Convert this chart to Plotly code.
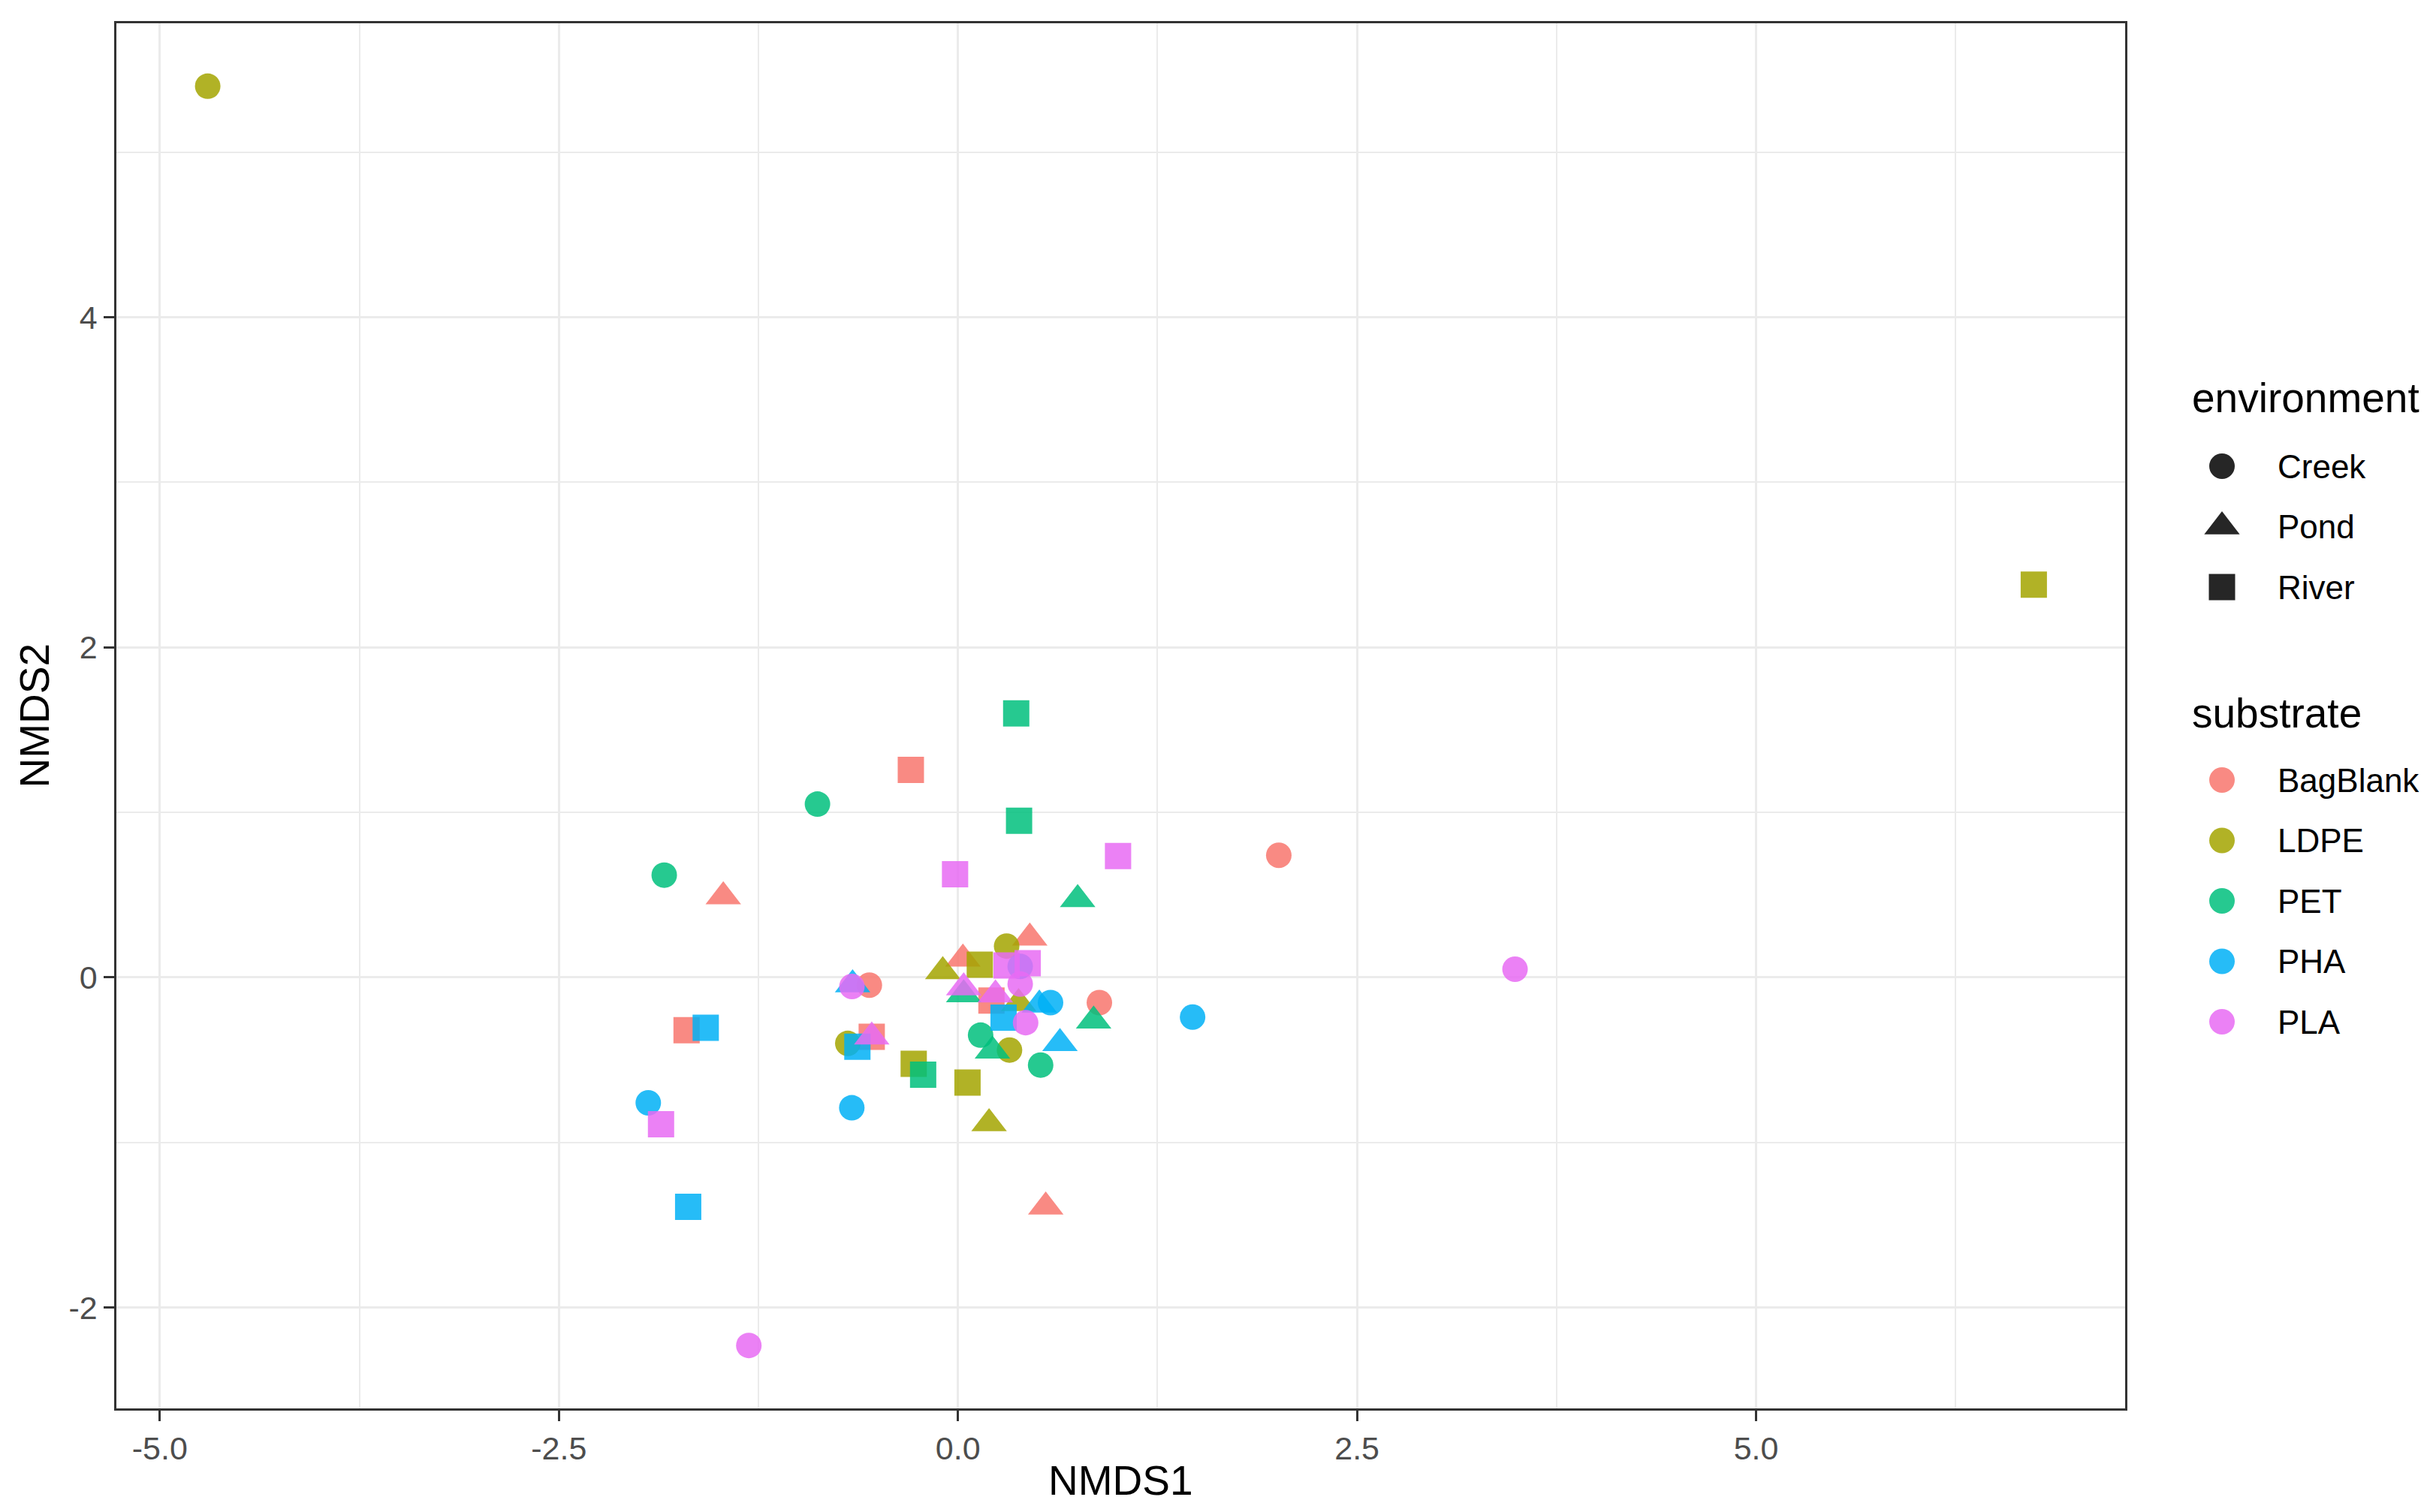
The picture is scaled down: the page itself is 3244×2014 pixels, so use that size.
import plotly.graph_objects as go

W, H = 3244, 2014

# ---------------- data ----------------
substrates = ["BagBlank", "LDPE", "PET", "PHA", "PLA"]
substrate_colors = ["#F8766D", "#A3A500", "#00BF7D", "#00B0F6", "#E76BF3"]
environments = ["Creek", "Pond", "River"]

x_tick_vals = [-5.0, -2.5, 0.0, 2.5, 5.0]
x_tick_labels = ["-5.0", "-2.5", "0.0", "2.5", "5.0"]
y_tick_vals = [-2, 0, 2, 4]
y_tick_labels = ["-2", "0", "2", "4"]

bagblank_creek_x = [2.01, 0.886, -0.555]
bagblank_creek_y = [0.74, -0.153, -0.047]
bagblank_pond_x = [-1.47, 0.45, 0.031, 0.55]
bagblank_pond_y = [0.49, 0.24, 0.112, -1.39]
bagblank_river_x = [-0.295, -1.70, -0.54, 0.21]
bagblank_river_y = [1.257, -0.32, -0.36, -0.14]

ldpe_creek_x = [-4.70, 0.305, 0.323, -0.69]
ldpe_creek_y = [5.40, 0.19, -0.44, -0.40]
ldpe_pond_x = [-0.095, 0.38, 0.195]
ldpe_pond_y = [0.036, -0.157, -0.885]
ldpe_river_x = [6.74, 0.137, -0.277, 0.06]
ldpe_river_y = [2.38, 0.077, -0.524, -0.637]

pet_creek_x = [-0.88, -1.84, 0.142, 0.518]
pet_creek_y = [1.05, 0.62, -0.35, -0.531]
pet_pond_x = [0.75, 0.036, 0.85, 0.216]
pet_pond_y = [0.473, -0.104, -0.263, -0.445]
pet_river_x = [0.365, 0.383, -0.218]
pet_river_y = [1.60, 0.949, -0.59]

pha_creek_x = [1.47, -1.94, -0.665, 0.39, 0.58]
pha_creek_y = [-0.24, -0.76, -0.79, 0.067, -0.153]
pha_pond_x = [-0.66, 0.51, 0.639]
pha_pond_y = [-0.044, -0.166, -0.40]
pha_river_x = [-1.58, -1.69, 0.286, -0.63]
pha_river_y = [-0.305, -1.39, -0.244, -0.42]

pla_creek_x = [3.49, -1.31, 0.39, 0.424, -0.664]
pla_creek_y = [0.05, -2.23, -0.04, -0.274, -0.055]
pla_pond_x = [0.036, 0.235, -0.54]
pla_pond_y = [-0.062, -0.105, -0.36]
pla_river_x = [1.003, -0.018, -1.86, 0.305, 0.437]
pla_river_y = [0.735, 0.625, -0.89, 0.073, 0.086]

groups = {
    ("BagBlank", "Creek"): (bagblank_creek_x, bagblank_creek_y),
    ("BagBlank", "Pond"): (bagblank_pond_x, bagblank_pond_y),
    ("BagBlank", "River"): (bagblank_river_x, bagblank_river_y),
    ("LDPE", "Creek"): (ldpe_creek_x, ldpe_creek_y),
    ("LDPE", "Pond"): (ldpe_pond_x, ldpe_pond_y),
    ("LDPE", "River"): (ldpe_river_x, ldpe_river_y),
    ("PET", "Creek"): (pet_creek_x, pet_creek_y),
    ("PET", "Pond"): (pet_pond_x, pet_pond_y),
    ("PET", "River"): (pet_river_x, pet_river_y),
    ("PHA", "Creek"): (pha_creek_x, pha_creek_y),
    ("PHA", "Pond"): (pha_pond_x, pha_pond_y),
    ("PHA", "River"): (pha_river_x, pha_river_y),
    ("PLA", "Creek"): (pla_creek_x, pla_creek_y),
    ("PLA", "Pond"): (pla_pond_x, pla_pond_y),
    ("PLA", "River"): (pla_river_x, pla_river_y),
}

# ---------------- style ----------------
FONT = "Liberation Sans, Arial, Helvetica, sans-serif"
env_symbol = {"Creek": "circle", "Pond": "triangle-up", "River": "square"}
env_size = {"Creek": 34, "Pond": 41, "River": 35}
ALPHA = 0.85

# panel in pixels
PL, PR, PT, PB = 155, 2830, 31, 1876

all_x = [v for g in groups.values() for v in g[0]]
all_y = [v for g in groups.values() for v in g[1]]
xr = max(all_x) - min(all_x)
yr = max(all_y) - min(all_y)
x_range = [min(all_x) - 0.05 * xr, max(all_x) + 0.05 * xr]
y_range = [min(all_y) - 0.05 * yr, max(all_y) + 0.05 * yr]

fig = go.Figure()

for s, col in zip(substrates, substrate_colors):
    for e in environments:
        xs, ys = groups[(s, e)]
        fig.add_trace(go.Scatter(
            x=xs, y=ys, mode="markers", showlegend=False,
            name=f"{s} {e}",
            marker=dict(symbol=env_symbol[e], size=env_size[e], color=col,
                        opacity=ALPHA, line=dict(width=0)),
            xaxis="x", yaxis="y",
        ))

# ---------------- custom legend (pixel overlay axes) ----------------
KEY_X = 2959
TEXT_X = 3031
TITLE_X = 2917
STEP = 80.5
env_title_y = 530
sub_title_y = 950

for i, e in enumerate(environments):
    fig.add_trace(go.Scatter(
        x=[KEY_X], y=[env_title_y + 91 + i * STEP], mode="markers",
        showlegend=False, xaxis="x2", yaxis="y2", hoverinfo="skip",
        marker=dict(symbol=env_symbol[e], size=env_size[e], color="#000000",
                    opacity=ALPHA, line=dict(width=0)),
    ))
    fig.add_annotation(x=TEXT_X / W, y=1 - (env_title_y + 91 + i * STEP) / H,
                       xref="paper", yref="paper", text=e, showarrow=False,
                       xanchor="left", yanchor="middle",
                       font=dict(family=FONT, size=44, color="#000000"))

for i, (s, col) in enumerate(zip(substrates, substrate_colors)):
    fig.add_trace(go.Scatter(
        x=[KEY_X], y=[sub_title_y + 89 + i * STEP], mode="markers",
        showlegend=False, xaxis="x2", yaxis="y2", hoverinfo="skip",
        marker=dict(symbol="circle", size=34, color=col, opacity=ALPHA,
                    line=dict(width=0)),
    ))
    fig.add_annotation(x=TEXT_X / W, y=1 - (sub_title_y + 89 + i * STEP) / H,
                       xref="paper", yref="paper", text=s, showarrow=False,
                       xanchor="left", yanchor="middle",
                       font=dict(family=FONT, size=44, color="#000000"))

for t, ty in (("environment", env_title_y), ("substrate", sub_title_y)):
    fig.add_annotation(x=TITLE_X / W, y=1 - ty / H, xref="paper", yref="paper",
                       text=t, showarrow=False, xanchor="left", yanchor="middle",
                       font=dict(family=FONT, size=55, color="#000000"))

# axis titles
fig.add_annotation(x=((PL + PR) / 2) / W, y=1 - 1972 / H, xref="paper", yref="paper",
                   text="NMDS1", showarrow=False, xanchor="center", yanchor="middle",
                   font=dict(family=FONT, size=55, color="#000000"))
fig.add_annotation(x=45 / W, y=1 - ((PT + PB) / 2) / H, xref="paper", yref="paper",
                   text="NMDS2", showarrow=False, textangle=-90,
                   xanchor="center", yanchor="middle",
                   font=dict(family=FONT, size=55, color="#000000"))

GRID = "#EBEBEB"
BORDER = "#333333"

fig.update_layout(
    width=W, height=H,
    margin=dict(l=0, r=0, t=0, b=0),
    paper_bgcolor="white",
    plot_bgcolor="rgba(0,0,0,0)",
    font=dict(family=FONT),
    xaxis=dict(
        domain=[PL / W, PR / W], range=x_range, anchor="y",
        tickmode="array", tickvals=x_tick_vals, ticktext=x_tick_labels,
        ticks="outside", ticklen=14, tickwidth=3, tickcolor=BORDER,
        tickfont=dict(family=FONT, size=43, color="#4D4D4D"),
        showgrid=True, gridcolor=GRID, gridwidth=3, zeroline=False,
        minor=dict(tickvals=[-3.75, -1.25, 1.25, 3.75, 6.25], showgrid=True,
                   gridcolor=GRID, gridwidth=1.5, ticks=""),
        showline=True, linecolor=BORDER, linewidth=2.5, mirror=True,
        automargin=False,
    ),
    yaxis=dict(
        domain=[1 - PB / H, 1 - PT / H], range=y_range, anchor="x",
        tickmode="array", tickvals=y_tick_vals, ticktext=y_tick_labels,
        ticks="outside", ticklen=14, tickwidth=3, tickcolor=BORDER,
        tickfont=dict(family=FONT, size=43, color="#4D4D4D"),
        showgrid=True, gridcolor=GRID, gridwidth=3, zeroline=False,
        minor=dict(tickvals=[-1, 1, 3, 5], showgrid=True,
                   gridcolor=GRID, gridwidth=1.5, ticks=""),
        showline=True, linecolor=BORDER, linewidth=2.5, mirror=True,
        automargin=False,
    ),
    xaxis2=dict(domain=[0, 1], range=[0, W], visible=False, anchor="y2",
                fixedrange=True),
    yaxis2=dict(domain=[0, 1], range=[H, 0], visible=False, anchor="x2",
                fixedrange=True),
)

fig.write_html("out.html")
